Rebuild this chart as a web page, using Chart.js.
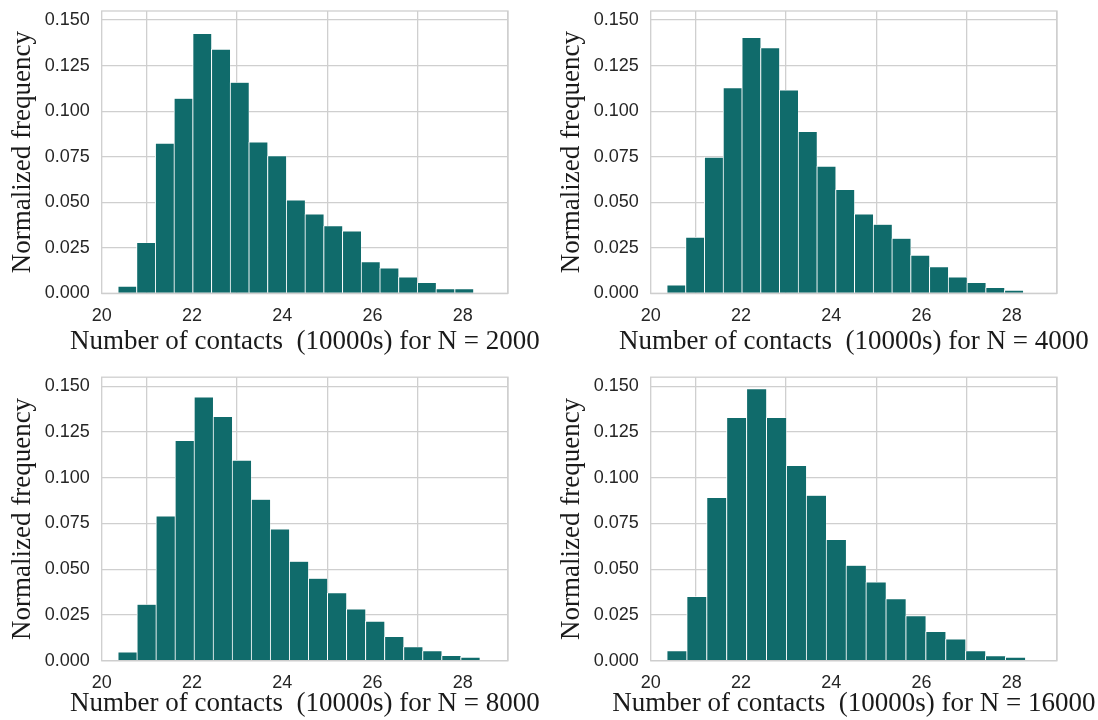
<!DOCTYPE html>
<html>
<head>
<meta charset="utf-8">
<script src="https://cdn.jsdelivr.net/npm/chart.js@4.4.1/dist/chart.umd.min.js"></script>
<style>
  html, body { margin: 0; padding: 0; background: #ffffff; }
  body { width: 1098px; height: 720px; position: relative; overflow: hidden; }
  canvas { position: absolute; }
</style>
</head>
<body>
<canvas id="c1" width="549" height="360" style="left:0px;top:0px"></canvas>
<canvas id="c2" width="549" height="360" style="left:549px;top:0px"></canvas>
<canvas id="c3" width="549" height="360" style="left:0px;top:360px"></canvas>
<canvas id="c4" width="549" height="360" style="left:549px;top:360px"></canvas>
<script>
// ---- data ----
const xTickValues = [20, 22, 24, 26, 28];
const yTickValues = [0, 0.025, 0.05, 0.075, 0.1, 0.125, 0.15];
const xMin = 20, xMax = 29.0;
const yMin = 0, yMax = 0.155;

const sizesN = [2000, 4000, 8000, 16000];

// bin left edge and bin width for each panel (units of 10000 contacts)
const binStart2000 = 20.357, binWidth2000 = 0.4145;
const binStart4000 = 20.356, binWidth4000 = 0.4155;
const binStart8000 = 20.357, binWidth8000 = 0.4219;
const binStart16000 = 20.356, binWidth16000 = 0.4411;

const freq2000 = [0.0038, 0.0277, 0.0823, 0.1069, 0.1425, 0.1339, 0.1157, 0.0830, 0.0754, 0.0511,
                  0.0434, 0.0369, 0.0341, 0.0172, 0.0137, 0.0088, 0.0058, 0.0024, 0.0024];
const freq4000 = [0.0044, 0.0307, 0.0746, 0.1128, 0.1403, 0.1347, 0.1115, 0.0887, 0.0697, 0.0569,
                  0.0434, 0.0378, 0.0301, 0.0208, 0.0144, 0.0088, 0.0058, 0.0031, 0.0016];
const freq8000 = [0.0046, 0.0307, 0.0790, 0.1203, 0.1440, 0.1334, 0.1095, 0.0881, 0.0719, 0.0542,
                  0.0449, 0.0370, 0.0281, 0.0215, 0.0131, 0.0075, 0.0053, 0.0027, 0.0018];
const freq16000 = [0.0053, 0.0350, 0.0891, 0.1328, 0.1485, 0.1328, 0.1066, 0.0903, 0.0662, 0.0520,
                   0.0429, 0.0338, 0.0245, 0.0159, 0.0117, 0.0053, 0.0026, 0.0018];

const xTitleText = 'Number of contacts  (10000s) for N = ';
const yTitleText = 'Normalized frequency';

// ---- styles ----
const barColor = '#106b6b';
const gridColor = '#cfcfcf';
const tickColor = '#262626';
const titleColor = '#1a1a1a';
const titleFontCss = '27px "Liberation Serif", "Times New Roman", serif';

const frameBox = {
  id: 'frameBox',
  afterDraw(chart) {
    const {ctx, chartArea: a} = chart;
    ctx.save();
    ctx.strokeStyle = gridColor;
    ctx.lineWidth = 1.3;
    ctx.strokeRect(a.left, a.top, a.right - a.left, a.bottom - a.top);
    ctx.restore();
  }
};

// axis titles drawn as canvas text without width squeezing
const axisTitles = {
  id: 'axisTitles',
  afterDraw(chart, args, opts) {
    const {ctx, chartArea: a} = chart;
    ctx.save();
    ctx.font = titleFontCss;
    ctx.fillStyle = titleColor;
    ctx.textAlign = 'center';
    ctx.textBaseline = 'middle';
    ctx.fillText(opts.xText, (a.left + a.right) / 2, opts.xTitleY);
    ctx.translate(opts.yTitleX, (a.top + a.bottom) / 2);
    ctx.rotate(-Math.PI / 2);
    ctx.fillText(opts.yText, 0, 0);
    ctx.restore();
  }
};

function makeChart(id, n, start, width, values, isTop) {
  const pts = values.map((v, i) => ({x: start + (i + 0.5) * width, y: v}));
  const xAxisHeight = isTop ? 66.7 : 59.3;
  const topPad = isTop ? 11 : 17.2;
  const titleY = isTop ? 342 : 343.5;
  const tickFont = {family: '"Liberation Sans", Arial, sans-serif', size: 18};
  return new Chart(document.getElementById(id), {
    type: 'bar',
    data: {
      datasets: [{
        data: pts,
        backgroundColor: barColor,
        borderColor: '#ffffff',
        borderWidth: {left: 1, right: 0.4, top: 0.6, bottom: 0},
        borderSkipped: 'bottom',
        barPercentage: 1.0,
        categoryPercentage: 1.0
      }]
    },
    options: {
      responsive: false,
      animation: false,
      devicePixelRatio: 1,
      layout: {padding: {top: topPad, right: 41, bottom: 0, left: 0}},
      plugins: {
        legend: {display: false},
        tooltip: {enabled: false},
        axisTitles: {xText: xTitleText + n, xTitleY: titleY, yText: yTitleText, yTitleX: 23}
      },
      scales: {
        x: {
          type: 'linear',
          min: xMin, max: xMax,
          offset: false,
          afterFit: s => { s.height = xAxisHeight; s.paddingLeft = 0; s.paddingRight = 0; },
          afterBuildTicks: s => { s.ticks = xTickValues.map(v => ({value: v})); },
          grid: {color: gridColor, lineWidth: 1.3, drawTicks: false},
          ticks: {
            padding: 12, autoSkip: false, maxRotation: 0,
            color: tickColor,
            font: tickFont
          }
        },
        y: {
          min: yMin, max: yMax,
          afterFit: s => { s.width = 101.7; s.paddingTop = 0; s.paddingBottom = 0; },
          afterBuildTicks: s => { s.ticks = yTickValues.map(v => ({value: v})); },
          grid: {color: gridColor, lineWidth: 1.3, drawTicks: false},
          ticks: {
            padding: 12,
            color: tickColor,
            font: tickFont,
            callback: v => Number(v).toFixed(3)
          }
        }
      }
    },
    plugins: [frameBox, axisTitles]
  });
}

makeChart('c1', sizesN[0], binStart2000, binWidth2000, freq2000, true);
makeChart('c2', sizesN[1], binStart4000, binWidth4000, freq4000, true);
makeChart('c3', sizesN[2], binStart8000, binWidth8000, freq8000, false);
makeChart('c4', sizesN[3], binStart16000, binWidth16000, freq16000, false);
</script>
</body>
</html>
